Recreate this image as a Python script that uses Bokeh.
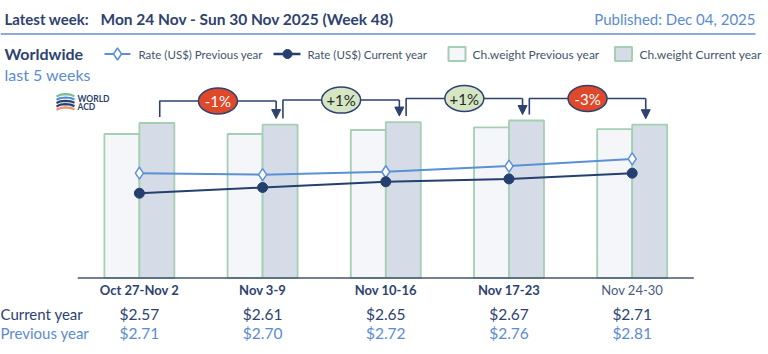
from bokeh.plotting import figure
from bokeh.models import Range1d, Arrow, NormalHead
from bokeh.embed import file_html
from bokeh.resources import INLINE
from bokeh.core.properties import value

# ---------------- data ----------------
weeks = ["Oct 27-Nov 2", "Nov 3-9", "Nov 10-16", "Nov 17-23", "Nov 24-30"]
weight_prev = [92.9, 92.9, 95.5, 97.2, 96.1]     # chargeable weight index, previous year
weight_cur = [100.0, 99.0, 100.6, 101.6, 98.9]   # chargeable weight index, current year
rate_prev = [2.71, 2.70, 2.72, 2.76, 2.81]       # US$ per kg, previous year
rate_cur = [2.57, 2.61, 2.65, 2.67, 2.71]        # US$ per kg, current year
changes = ["-1%", "+1%", "+1%", "-3%"]           # week-on-week change, current year weight

# ---------------- styling ----------------
FONT = value("Lato")
NAVY = "#2e4270"
LBLUE = "#5b8bd0"
PREV_LINE = "#5b8fd6"
CUR_LINE = "#253f6e"
BAR_EDGE = "#a5cfb2"
PX_PER_W = 1.55
PX_PER_R = 143.0

idx = list(range(len(weeks)))

p = figure(width=768, height=354,
           x_range=Range1d(-1.1274, 5.1064),
           y_range=Range1d(-76.5 / PX_PER_W, (354 - 76.5) / PX_PER_W),
           output_backend="svg", toolbar_location=None,
           x_axis_location=None, y_axis_location=None,
           min_border=0, outline_line_color=None,
           background_fill_color="white", border_fill_color="white")
p.grid.visible = False
r0 = 2.71 - 181.3 / PX_PER_R
p.extra_y_ranges = {"rate": Range1d(r0, r0 + 354 / PX_PER_R),
                    "px": Range1d(354, 0)}
p.extra_x_ranges = {"px": Range1d(0, 768)}

# ---------------- bars ----------------
bw = 0.284
p.vbar(x=[i - bw / 2 for i in idx], top=weight_prev, bottom=0, width=bw,
       fill_color="#f5f6f9", line_color=BAR_EDGE, line_width=1.8)
p.vbar(x=[i + bw / 2 for i in idx], top=weight_cur, bottom=0, width=bw,
       fill_color="#d5dce8", line_color=BAR_EDGE, line_width=1.8)

# baseline axis
p.line(x=[-0.5, len(weeks) - 0.5], y=[0, 0], line_color="#44546a", line_width=1.6)

# ---------------- rate lines ----------------
p.line(x=idx, y=rate_prev, y_range_name="rate", line_color=PREV_LINE, line_width=2)
p.scatter(x=idx, y=rate_prev, y_range_name="rate", marker="diamond", size=12,
          fill_color="white", line_color=PREV_LINE, line_width=1.5)
p.line(x=idx, y=rate_cur, y_range_name="rate", line_color=CUR_LINE, line_width=2)
p.scatter(x=idx, y=rate_cur, y_range_name="rate", marker="circle", size=10,
          fill_color=CUR_LINE, line_color=CUR_LINE)

# ---------------- change brackets ----------------
gap = 6 / PX_PER_W
lift = 22 / PX_PER_W
mids, tops = [], []
for i in range(len(changes)):
    xa = i + 0.165
    xb = i + 1 + 0.11
    top = max(weight_cur[i], weight_cur[i + 1]) + lift
    p.line(x=[xa, xa, xb], y=[weight_cur[i] + gap, top, top],
           line_color=NAVY, line_width=1.6)
    p.add_layout(Arrow(x_start=xb, y_start=top, x_end=xb, y_end=weight_cur[i + 1] + gap,
                       line_color=NAVY, line_width=1.6,
                       end=NormalHead(size=9, fill_color=NAVY, line_color=NAVY)))
    mids.append((xa + xb) / 2)
    tops.append(top)

fills = ["#e0482a" if c.startswith("-") else "#d6e6c4" for c in changes]
tcols = ["white" if c.startswith("-") else "#1e2a1e" for c in changes]
p.ellipse(x=mids, y=tops, width=39, height=26, width_units="screen", height_units="screen",
          fill_color=fills, line_color=NAVY, line_width=1.5)
p.text(x=mids, y=tops, text=changes, text_align="center", text_baseline="middle",
       text_font=FONT, text_font_size="15px", text_color=tcols)

# ---------------- category labels and table ----------------
p.text(x=idx, y=[289.5] * len(idx), y_range_name="px", text=weeks,
       text_align="center", text_baseline="middle", text_font=FONT, text_font_size="13px",
       text_font_style=["bold"] * (len(weeks) - 1) + ["normal"],
       text_color=[NAVY] * (len(weeks) - 1) + ["#4a5a80"])
p.text(x=idx, y=[313.5] * len(idx), y_range_name="px", text=[f"${v:.2f}" for v in rate_cur],
       text_align="center", text_baseline="middle", text_font=FONT, text_font_size="15.5px",
       text_color=NAVY)
p.text(x=idx, y=[332.5] * len(idx), y_range_name="px", text=[f"${v:.2f}" for v in rate_prev],
       text_align="center", text_baseline="middle", text_font=FONT, text_font_size="15.5px",
       text_color=LBLUE)


def ptext(x, y, t, **kw):
    args = dict(text_baseline="middle", text_font=FONT, text_font_size="15px",
                text_color=NAVY, x_range_name="px", y_range_name="px")
    args.update(kw)
    p.text(x=[x], y=[y], text=[t], **args)


ptext(0, 313.5, "Current year", text_font_size="15px")
ptext(0, 332.5, "Previous year", text_font_size="15px", text_color=LBLUE)

# ---------------- header ----------------
ptext(4, 18.5, "Latest week:", text_font_style="bold", text_font_size="15px")
ptext(100, 18.5, "Mon 24 Nov - Sun 30 Nov 2025 (Week 48)", text_font_style="bold",
      text_font_size="15.5px")
ptext(755, 18.5, "Published: Dec 04, 2025", text_align="right", text_color=LBLUE,
      text_font_size="15px")
p.line(x=[0, 755], y=[33.5, 33.5], x_range_name="px", y_range_name="px",
       line_color="#8eaadb", line_width=2)
ptext(4, 53, "Worldwide", text_font_style="bold", text_font_size="16px")
ptext(4, 73.5, "last 5 weeks", text_color=LBLUE, text_font_size="16px")

# ---------------- legend ----------------
LY = 53.5
p.line(x=[104, 130], y=[LY, LY], x_range_name="px", y_range_name="px",
       line_color=PREV_LINE, line_width=2)
p.scatter(x=[117], y=[LY], x_range_name="px", y_range_name="px", marker="diamond",
          size=12, fill_color="white", line_color=PREV_LINE, line_width=1.5)
ptext(138, LY, "Rate (US$) Previous year", text_font_size="11.5px", text_color="#44546a")
p.line(x=[273, 300], y=[LY, LY], x_range_name="px", y_range_name="px",
       line_color=CUR_LINE, line_width=2.5)
p.scatter(x=[287], y=[LY], x_range_name="px", y_range_name="px", marker="circle",
          size=9, fill_color=CUR_LINE, line_color=CUR_LINE)
ptext(307, LY, "Rate (US$) Current year", text_font_size="11.5px", text_color="#44546a")
p.rect(x=[456.5], y=[LY], width=17, height=14, x_range_name="px", y_range_name="px",
       width_units="screen", height_units="screen",
       fill_color="#f5f6f9", line_color=BAR_EDGE, line_width=2)
ptext(472, LY, "Ch.weight Previous year", text_font_size="12px", text_color="#44546a")
p.rect(x=[623], y=[LY], width=17, height=14, x_range_name="px", y_range_name="px",
       width_units="screen", height_units="screen",
       fill_color="#d5dce8", line_color=BAR_EDGE, line_width=2)
ptext(639, LY, "Ch.weight Current year", text_font_size="12px", text_color="#44546a")

# ---------------- logo ----------------
logo_cols = ["#7dbb94", "#4b8fd6", "#2b3f6b", "#2b3f6b", "#e8936f"]
xs, ys = [], []
for k, c in enumerate(logo_cols):
    y0 = 94.5 + k * 3.3
    xs.append([56, 60, 65, 70, 74])
    ys.append([y0 + 1.5, y0 - 0.3, y0 - 0.8, y0 - 0.3, y0 + 1.2])
p.multi_line(xs=xs, ys=ys, x_range_name="px", y_range_name="px",
             line_color=logo_cols, line_width=2.2)
ptext(77, 98.5, "WORLD", text_font_style="bold", text_font_size="8.5px", text_color="#2b3f6b")
ptext(77, 106.5, "ACD", text_font_style="bold", text_font_size="8.5px", text_color="#2b3f6b")

open("out.html", "w").write(file_html(p, INLINE))
